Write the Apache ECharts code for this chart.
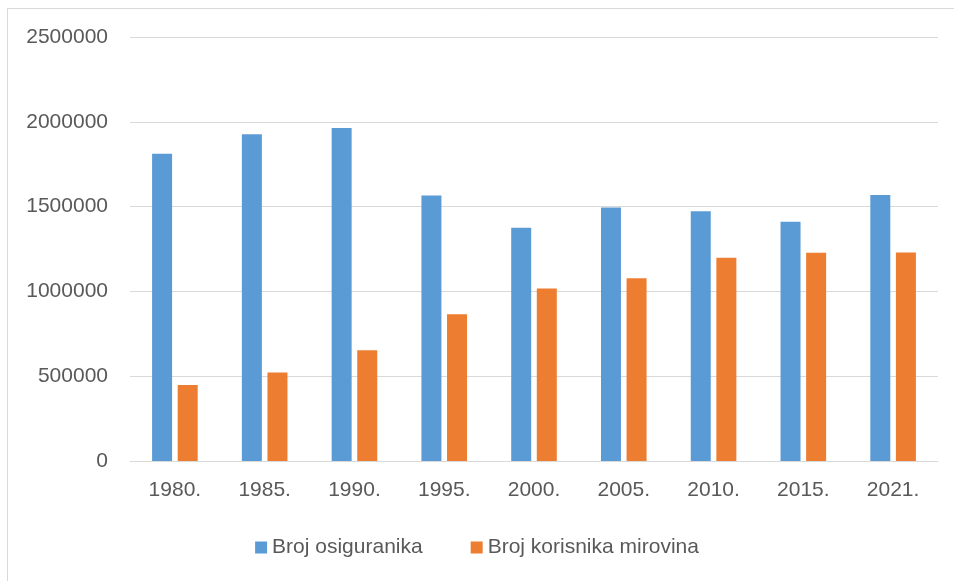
<!DOCTYPE html>
<html>
<head>
<meta charset="utf-8">
<script src="https://cdn.jsdelivr.net/npm/echarts@6/dist/echarts.min.js"></script>
<style>
  html, body { margin: 0; padding: 0; background: #fff; }
  #chart { width: 954px; height: 581px; }
</style>
</head>
<body>
<div id="chart"></div>
<script>
var years = ['1980.', '1985.', '1990.', '1995.', '2000.', '2005.', '2010.', '2015.', '2021.'];
var osiguranici = [1812000, 1926000, 1964000, 1566000, 1376000, 1495000, 1472000, 1411000, 1568000];
var umirovljenici = [448000, 522000, 653000, 866000, 1017000, 1077000, 1198000, 1228000, 1230000];
var seriesNames = ['Broj osiguranika', 'Broj korisnika mirovina'];

var chart = echarts.init(document.getElementById('chart'));
var font = '"Liberation Sans", Arial, sans-serif';

var option = {
  backgroundColor: '#fff',
  animation: false,
  textStyle: { fontFamily: font },
  graphic: [{
    type: 'rect',
    shape: { x: 7.5, y: 8.5, width: 980, height: 620 },
    style: { fill: 'none', stroke: '#d9d9d9', lineWidth: 1 },
    silent: true
  }],
  legend: {
    data: seriesNames,
    bottom: 18,
    left: 'center',
    itemWidth: 12,
    itemHeight: 12,
    itemGap: 48,
    icon: 'rect',
    textStyle: { fontFamily: font, fontSize: 21, color: '#595959' }
  },
  grid: { left: 130, right: 16, top: 37, bottom: 120, containLabel: false },
  xAxis: {
    type: 'category',
    data: years,
    axisLine: { lineStyle: { color: '#d9d9d9', width: 1 } },
    axisTick: { show: false },
    axisLabel: { fontFamily: font, fontSize: 21, color: '#595959', margin: 19 }
  },
  yAxis: {
    type: 'value',
    min: 0,
    max: 2500000,
    interval: 500000,
    axisLine: { show: false },
    axisTick: { show: false },
    splitLine: { lineStyle: { color: '#d9d9d9', width: 1 } },
    axisLabel: {
      fontFamily: font, fontSize: 21, color: '#595959', margin: 22,
      formatter: function (v) { return String(v); }
    }
  },
  series: [
    {
      name: seriesNames[0],
      type: 'bar',
      data: osiguranici,
      barWidth: 20,
      barGap: '28%',
      itemStyle: { color: '#5b9bd5' }
    },
    {
      name: seriesNames[1],
      type: 'bar',
      data: umirovljenici,
      barWidth: 20,
      itemStyle: { color: '#ed7d31' }
    }
  ]
};
chart.setOption(option);
</script>
</body>
</html>
